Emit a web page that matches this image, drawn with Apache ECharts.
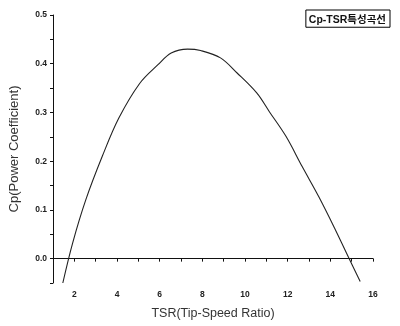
<!DOCTYPE html>
<html>
<head>
<meta charset="utf-8">
<script src="https://cdn.jsdelivr.net/npm/echarts@6/dist/echarts.min.js"></script>
<style>html,body{margin:0;padding:0;background:#fff}#c{width:400px;height:326px}</style>
</head>
<body>
<div id="c"></div>
<script>
var seriesName = 'Cp-TSR특성곡선';
var tsr = [1.46, 1.92, 2.54, 3.31, 4.08, 5.07, 5.92, 6.54, 7.31, 7.92, 8.85, 9.63, 10.55, 11.15, 11.92, 12.68, 13.46, 14.24, 14.84, 15.40];
var cp  = [-0.05, 0.032, 0.121, 0.210, 0.288, 0.360, 0.398, 0.422, 0.430, 0.427, 0.412, 0.381, 0.340, 0.301, 0.251, 0.189, 0.127, 0.059, 0.004, -0.047];
var data = tsr.map(function (x, i) { return [x, cp[i]]; });

var chart = echarts.init(document.getElementById('c'));
var lab = { color: '#222', fontSize: 8.5, fontWeight: 'bold', fontFamily: 'Liberation Sans, Arial, sans-serif' };
chart.setOption({
  animation: false,
  backgroundColor: '#fff',
  grid: { left: 50, right: 27, top: 15, bottom: 43, containLabel: false },
  legend: {
    data: [seriesName], right: 10, top: 10, icon: 'none', itemWidth: 0, itemGap: 0,
    borderColor: '#000', borderWidth: 1, padding: [3, 4, 2, 2],
    textStyle: { fontSize: 10.5, fontWeight: 'bold', color: '#111', fontFamily: 'Liberation Sans, Noto Sans CJK KR, sans-serif', padding: [0, 0, 0, -4] }
  },
  xAxis: {
    type: 'value', min: 1, max: 16, interval: 1,
    name: 'TSR(Tip-Speed Ratio)', nameLocation: 'middle', nameGap: 24,
    nameTextStyle: { fontSize: 12.5, color: '#333', fontFamily: 'Liberation Sans, Arial, sans-serif' },
    axisLine: { lineStyle: { color: '#111', width: 1 } },
    axisTick: { inside: false, length: 3, lineStyle: { color: '#111' } },
    splitLine: { show: false },
    axisLabel: Object.assign({ margin: 7, formatter: function (v) { return v % 2 === 0 ? String(v) : ''; } }, lab)
  },
  yAxis: {
    type: 'value', min: -0.05, max: 0.5, interval: 0.05,
    name: 'Cp(Power Coefficient)', nameLocation: 'middle', nameGap: 32, nameRotate: 90,
    nameTextStyle: { fontSize: 13, color: '#333', fontFamily: 'Liberation Sans, Arial, sans-serif' },
    axisLine: { show: true, lineStyle: { color: '#111', width: 1 } },
    axisTick: { show: true, inside: false, length: 3, lineStyle: { color: '#111' } },
    splitLine: { show: false },
    axisLabel: Object.assign({ margin: 6, formatter: function (v) { var k = Math.round(v * 100); return (k % 10 === 0 && k >= 0) ? (k / 100).toFixed(1) : ''; } }, lab)
  },
  series: [{
    name: seriesName, type: 'line', data: data, smooth: 0.35, showSymbol: false,
    lineStyle: { color: '#222', width: 1.1 }, itemStyle: { color: '#222' }
  }]
});
</script>
</body>
</html>
